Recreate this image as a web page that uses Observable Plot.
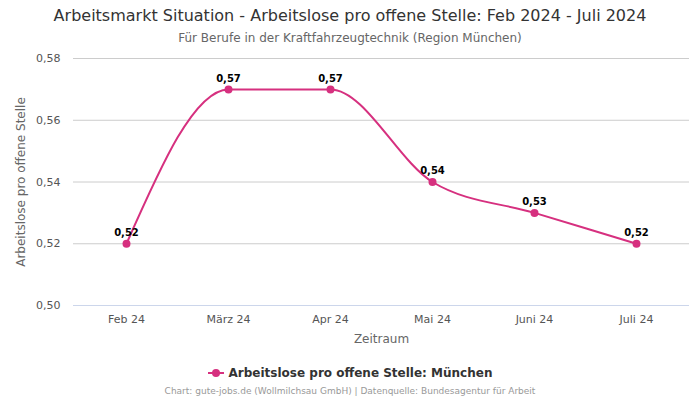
<!DOCTYPE html>
<html>
<head>
<meta charset="utf-8">
<script src="https://cdn.jsdelivr.net/npm/d3@7"></script>
<script src="https://cdn.jsdelivr.net/npm/@observablehq/plot@0.6"></script>
<style>
  body { margin: 0; width: 700px; height: 400px; background: #fff; font-family: "DejaVu Sans", sans-serif; position: relative; overflow: hidden; }
  #title { position: absolute; top: 6px; left: 0; width: 700px; text-align: center; font-size: 16px; color: #333; }
  #subtitle { position: absolute; top: 31px; left: 0; width: 700px; text-align: center; font-size: 12px; color: #666; }
  #chart { position: absolute; top: 48px; left: 0; }
  #chart [aria-label="y-axis label"] text, #chart [aria-label="x-axis label"] text { font-size: 12px; fill: #666; }
  #legend { position: absolute; top: 366px; left: 0; width: 700px; text-align: center; font-size: 12px; font-weight: bold; color: #333; }
  #legend .sw { display: inline-block; position: relative; width: 16px; height: 10px; vertical-align: middle; margin-right: 5px; top: -1px; }
  #legend .sw::before { content: ""; position: absolute; left: 0; top: 4px; width: 16px; height: 2px; background: #d6307f; }
  #legend .sw::after { content: ""; position: absolute; left: 4px; top: 1px; width: 8px; height: 8px; border-radius: 50%; background: #d6307f; }
  #caption { position: absolute; top: 386px; left: 0; width: 700px; text-align: center; font-size: 9px; color: #999; }
</style>
</head>
<body>
<div id="title">Arbeitsmarkt Situation - Arbeitslose pro offene Stelle: Feb 2024 - Juli 2024</div>
<div id="subtitle">Für Berufe in der Kraftfahrzeugtechnik (Region München)</div>
<div id="chart"></div>
<div id="legend"><span class="sw"></span>Arbeitslose pro offene Stelle: München</div>
<div id="caption">Chart: gute-jobs.de (Wollmilchsau GmbH) | Datenquelle: Bundesagentur für Arbeit</div>
<script>
const months = ["Feb 24", "März 24", "Apr 24", "Mai 24", "Juni 24", "Juli 24"];
const values = [0.52, 0.57, 0.57, 0.54, 0.53, 0.52];
const yTicks = [0.50, 0.52, 0.54, 0.56, 0.58];

const data = months.map((m, i) => ({month: m, value: values[i]}));
const fmt = d => d.toFixed(2).replace(".", ",");
const color = "#d6307f";

const plot = Plot.plot({
  width: 700,
  height: 300,
  marginTop: 10,
  marginBottom: 43,
  marginLeft: 73,
  marginRight: 11,
  style: {fontFamily: "DejaVu Sans, sans-serif", fontSize: "11px", color: "#555", background: "white"},
  x: {type: "point", domain: months, padding: 0.5, label: "Zeitraum", labelArrow: "none", labelAnchor: "center", labelOffset: 37, tickSize: 0, tickPadding: 10},
  y: {domain: [0.50, 0.58], ticks: yTicks, tickFormat: fmt, label: "Arbeitslose pro offene Stelle", labelArrow: "none", labelAnchor: "center", labelOffset: 57, tickSize: 0, tickPadding: 13},
  marks: [
    Plot.gridY(yTicks, {stroke: "#ccc", strokeOpacity: 1}),
    Plot.ruleY([0.50], {stroke: "#ccd6eb"}),
    Plot.line(data, {x: "month", y: "value", stroke: color, strokeWidth: 2, curve: "monotone-x"}),
    Plot.dot(data, {x: "month", y: "value", fill: color, r: 4}),
    Plot.text(data, {x: "month", y: "value", text: d => fmt(d.value), dy: -11, fontWeight: "bold", fontSize: 10, fill: "#000"})
  ]
});
document.getElementById("chart").appendChild(plot);
</script>
</body>
</html>
